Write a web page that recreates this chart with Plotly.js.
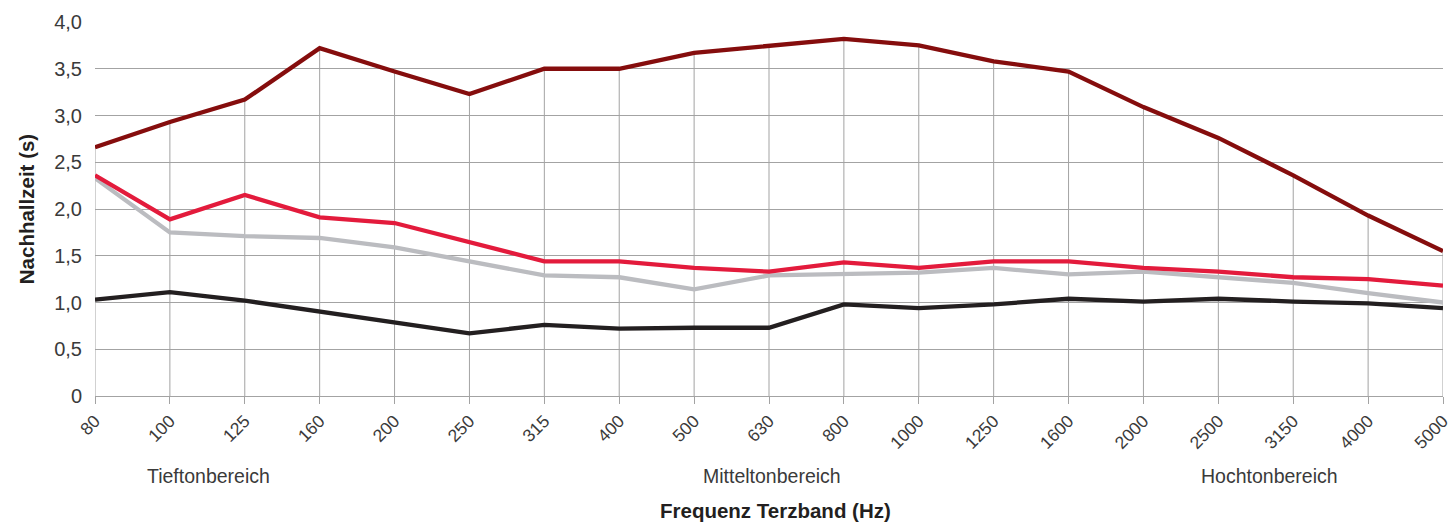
<!DOCTYPE html>
<html>
<head>
<meta charset="utf-8">
<script src="https://cdn.plot.ly/plotly-3.0.1.min.js"></script>
<style>html,body{margin:0;padding:0;background:#fff;}#chart{width:1452px;height:524px;}</style>
</head>
<body>
<div id="chart"></div>
<script>
const frequencies = ["80","100","125","160","200","250","315","400","500","630","800","1000","1250","1600","2000","2500","3150","4000","5000"];
const seriesDarkRed = [2.66,2.93,3.17,3.72,3.47,3.23,3.50,3.50,3.67,3.75,3.82,3.75,3.58,3.47,3.09,2.76,2.36,1.93,1.55];
const seriesRed     = [2.36,1.89,2.15,1.91,1.85,1.65,1.44,1.44,1.37,1.33,1.43,1.37,1.44,1.44,1.37,1.33,1.27,1.25,1.18];
const seriesGray    = [2.33,1.75,1.71,1.69,1.59,1.44,1.29,1.27,1.14,1.29,1.30,1.32,1.37,1.30,1.33,1.27,1.21,1.10,1.00];
const seriesBlack   = [1.03,1.11,1.02,0.90,0.78,0.67,0.76,0.72,0.73,0.73,0.98,0.94,0.98,1.04,1.01,1.04,1.01,0.99,0.94];
const yTickValues = [0,0.5,1,1.5,2,2.5,3,3.5,4];
const yTickLabels = ["0","0,5","1,0","1,5","2,0","2,5","3,0","3,5","4,0"];
const rangeLabels = ["Tieftonbereich","Mitteltonbereich","Hochtonbereich"];
const rangeLabelCategory = [1.51, 9.04, 15.68];

const lineFont = "Liberation Sans, Arial, sans-serif";

const traces = [
  { // vertical drop lines from the top curve to zero
    x: frequencies, y: seriesDarkRed, type: "scatter", mode: "markers",
    marker: {size: 0, color: "rgba(0,0,0,0)"},
    error_y: {type: "data", symmetric: false, array: seriesDarkRed.map(() => 0), arrayminus: seriesDarkRed, color: "#a3a3a3", thickness: 1, width: 0},
    hoverinfo: "skip", showlegend: false
  },
  {x: frequencies, y: seriesGray, type: "scatter", mode: "lines", line: {color: "#bbbcc0", width: 4.3}, showlegend: false},
  {x: frequencies, y: seriesBlack, type: "scatter", mode: "lines", line: {color: "#231f20", width: 4.3}, showlegend: false},
  {x: frequencies, y: seriesRed, type: "scatter", mode: "lines", line: {color: "#e31b3c", width: 4.3}, showlegend: false},
  {x: frequencies, y: seriesDarkRed, type: "scatter", mode: "lines", line: {color: "#850d0d", width: 4.3}, showlegend: false}
];

const annotations = rangeLabels.map((t, i) => ({
  text: t, x: rangeLabelCategory[i], xref: "x", y: -0.214, yref: "paper",
  xanchor: "center", yanchor: "middle", showarrow: false,
  font: {family: lineFont, size: 19.5, color: "#3a3a3a"}
}));
annotations.push({
  text: "<b>Frequenz Terzband (Hz)</b>", x: 0.505, xref: "paper", y: -0.305, yref: "paper",
  xanchor: "center", yanchor: "middle", showarrow: false,
  font: {family: lineFont, size: 20.5, color: "#231f20"}
});

const layout = {
  width: 1452, height: 524,
  margin: {l: 95, r: 9, t: 22, b: 128},
  paper_bgcolor: "#ffffff", plot_bgcolor: "#ffffff",
  showlegend: false,
  xaxis: {
    type: "category", range: [0, 18],
    showgrid: false, zeroline: false, showline: false,
    ticks: "outside", ticklen: 7, tickcolor: "#a3a3a3", tickwidth: 1,
    tickangle: -45,
    tickfont: {family: lineFont, size: 17.5, color: "#3a3a3a"}
  },
  yaxis: {
    range: [0, 4.0],
    tickvals: yTickValues, ticktext: yTickLabels,
    showgrid: true, gridcolor: "#a3a3a3", gridwidth: 1,
    zeroline: true, zerolinecolor: "#a3a3a3", zerolinewidth: 1,
    showline: false, ticks: "", ticklabelstandoff: 12,
    tickfont: {family: lineFont, size: 20, color: "#3a3a3a"},
    title: {text: "<b>Nachhallzeit (s)</b>", font: {family: lineFont, size: 20.5, color: "#231f20"}, standoff: 14}
  },
  annotations: annotations
};

Plotly.newPlot("chart", traces, layout, {displayModeBar: false, staticPlot: true});
</script>
</body>
</html>
